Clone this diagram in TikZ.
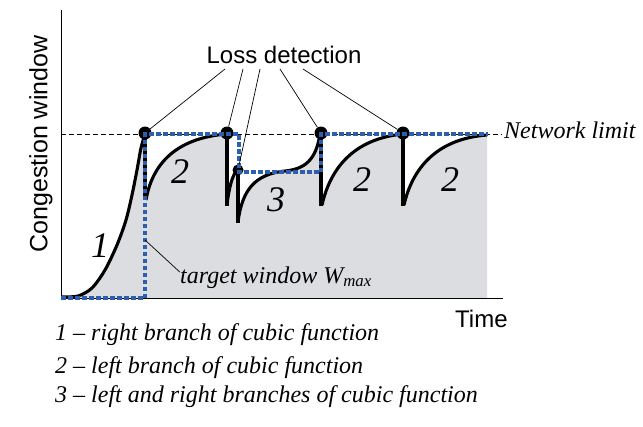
\documentclass[tikz,border=0pt]{standalone}
\usepackage{fontspec}
\setmainfont{Liberation Serif}
\setsansfont{Liberation Sans}
\definecolor{tgtblue}{RGB}{45,95,175}
\definecolor{areagray}{RGB}{220,221,224}
\begin{document}
\begin{tikzpicture}[x=1pt,y=-1pt,
  axis/.style={line width=1pt},
  limitline/.style={line width=0.8pt, dash pattern=on 5pt off 3pt},
  curve/.style={line width=3.1pt, line join=round},
  dropline/.style={line width=3.8pt},
  target/.style={tgtblue, line width=4pt, dash pattern=on 4.5pt off 2.5pt},
  leader/.style={line width=0.7pt},
  lossdot/.style={circle, fill=black, inner sep=0pt, minimum size=13pt},
  smalldot/.style={circle, fill=black, inner sep=0pt, minimum size=11pt},
  sanslabel/.style={font=\sffamily\fontsize{24}{28}\selectfont, inner sep=0pt},
  itallabel/.style={font=\itshape\fontsize{24}{28}\selectfont, inner sep=0pt},
  numlabel/.style={font=\itshape\fontsize{36}{40}\selectfont, inner sep=0pt}]
\useasboundingbox (0,0) rectangle (643,426);

% grey area under the window curve
\fill[areagray] (62,298) -- plot[smooth] coordinates {(62,297) (78,296) (92,288) (105,270) (117,245) (126,220) (132,195) (137,170) (141,148) (145,134)}
  -- (146,200) .. controls (152,165) and (175,138) .. (227,134)
  -- (227,205) .. controls (229,188) and (232,175) .. (238,169)
  -- (238,222) .. controls (242,190) and (255,174) .. (285,171)
  .. controls (305,169) and (316,160) .. (320,134)
  -- (322,205) .. controls (330,170) and (352,139) .. (403,134)
  -- (404,205) .. controls (412,170) and (435,139) .. (487,135)
  -- (487,298) -- cycle;

% network limit
\draw[limitline] (61,134) -- (502,134);
\node[itallabel, anchor=base west] (netlimit) at (504,138) {Network limit};

% axes
\draw[axis] (61,10) -- (61,298) -- (503,298);

% window curves
\draw[curve] plot[smooth] coordinates {(62,297) (78,296) (92,288) (105,270) (117,245) (126,220) (132,195) (137,170) (141,148) (145,134)};
\draw[curve] (146,200) .. controls (152,165) and (175,138) .. (227,134);
\draw[curve] (227,205) .. controls (229,188) and (232,175) .. (238,169);
\draw[curve] (238,222) .. controls (242,190) and (255,174) .. (285,171)
  .. controls (305,169) and (316,160) .. (320,134);
\draw[curve] (322,205) .. controls (330,170) and (352,139) .. (403,134);
\draw[curve] (404,205) .. controls (412,170) and (435,139) .. (487,135);

% drops
\draw[dropline] (145,134) -- (145,200);
\draw[dropline] (227,134) -- (227,206);
\draw[dropline] (238,170) -- (238,223);
\draw[dropline] (321,134) -- (321,206);
\draw[dropline] (403,134) -- (403,206);

% loss points
\node[lossdot] (d1) at (145,133) {};
\node[lossdot] (d2) at (227,133) {};
\node[smalldot] (d3) at (238,170) {};
\node[lossdot] (d4) at (321,133) {};
\node[lossdot] (d5) at (403,133) {};

% target window
\draw[target] (61,298) -- (145,298) -- (145,134) -- (239,134) -- (239,172) -- (321,172) -- (321,134) -- (488,134);

% loss detection label and leaders
\node[sanslabel, anchor=base] (loss) at (284,63) {Loss detection};
\coordinate (l1) at (225,69);
\coordinate (l2) at (243,69);
\coordinate (l3) at (260,69);
\coordinate (l4) at (280,69);
\coordinate (l5) at (303,69);
\draw[leader] (l1) -- (d1);
\draw[leader] (l2) -- (d2);
\draw[leader] (l3) -- (d3);
\draw[leader] (l4) -- (d4);
\draw[leader] (l5) -- (d5);

% target window label
\node[itallabel, anchor=base west] (tgt) at (180,283) {target window W\textsubscript{max}};
\coordinate (tw) at (145,240);
\draw[leader] (tw) -- ([yshift=5pt]tgt.west);

% branch numbers
\node[numlabel] (n1) at (100,246) {1};
\node[numlabel] (n2a) at (180,172) {2};
\node[numlabel] (n3) at (276,200) {3};
\node[numlabel] (n2b) at (362,180) {2};
\node[numlabel] (n2c) at (450,180) {2};

% axis labels
\node[sanslabel, rotate=90, font=\sffamily\fontsize{25}{28}\selectfont] (ylab) at (41,144) {Congestion window};
\node[sanslabel, anchor=base west] (xlab) at (455,327) {Time};

% legend
\node[itallabel, anchor=base west] (leg1) at (55,340) {1 – right branch of cubic function};
\node[itallabel, anchor=base west] (leg2) at (55,373) {2 – left branch of cubic function};
\node[itallabel, anchor=base west] (leg3) at (55,402) {3 – left and right branches of cubic function};
\end{tikzpicture}
\end{document}
